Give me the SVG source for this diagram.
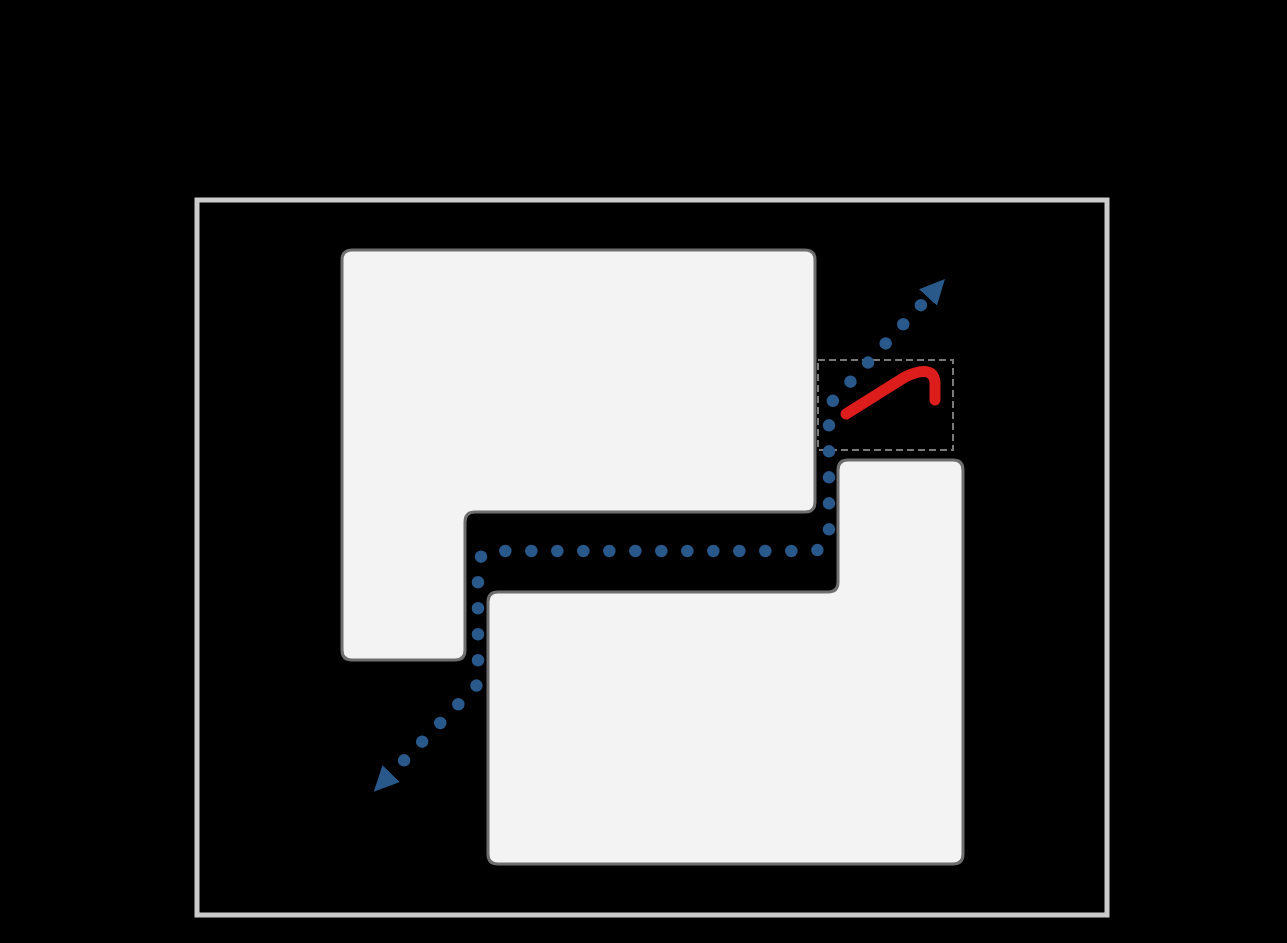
<svg xmlns="http://www.w3.org/2000/svg" width="1287" height="943" viewBox="0 0 1287 943">
<style>
.block{fill:#f3f3f3;stroke:#6e6e6e;stroke-width:3}
.dots{fill:none;stroke:#29598b;stroke-width:12.5;stroke-linecap:round;stroke-linejoin:round;stroke-dasharray:0 26}
.red{fill:none;stroke:#dd1c1c;stroke-width:11;stroke-linecap:round;stroke-linejoin:round}
</style>
<defs>
<marker id="tri" viewBox="0 0 28 28" markerUnits="userSpaceOnUse" markerWidth="26" markerHeight="26" refX="8" refY="14" orient="auto-start-reverse">
<path d="M0,1 L27,14 L0,27 Z" fill="#29598b"/>
</marker>
</defs>
<rect width="1287" height="943" fill="#000"/>
<rect x="197" y="200" width="910" height="715" fill="none" stroke="#cccccc" stroke-width="5"/>
<g id="slot">
<rect x="818" y="360" width="135" height="90" fill="none" stroke="#7a7a7a" stroke-width="2" stroke-dasharray="7 4"/>
</g>
<g id="upper-block">
<path class="block" d="M352,250 H805 Q815,250 815,260 V502 Q815,512 805,512 H475 Q465,512 465,522 V650 Q465,660 455,660 H352 Q342,660 342,650 V260 Q342,250 352,250 Z"/>
</g>
<g id="lower-block">
<path class="block" d="M848,460 H953 Q963,460 963,470 V854 Q963,864 953,864 H498 Q488,864 488,854 V602 Q488,592 498,592 H828 Q838,592 838,582 V470 Q838,460 848,460 Z"/>
</g>
<g id="red-hook">
<path class="red" d="M846,414 L905,377 Q933,364 935,382 L935,400"/>
</g>
<g id="connectors">
<path class="dots" d="M386,779 L478,684 L478,568 Q478,551 495,551 L810,551 Q829,551 829,532 L829,405 L933,292" marker-start="url(#tri)" marker-end="url(#tri)"/>
</g>
</svg>
